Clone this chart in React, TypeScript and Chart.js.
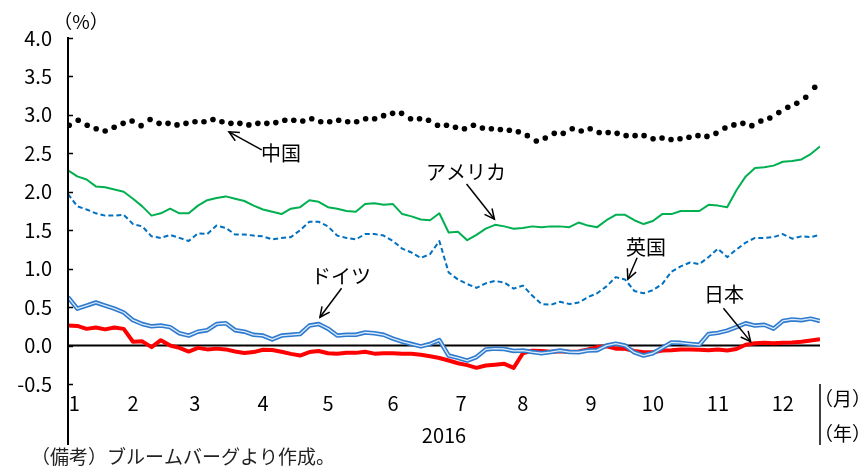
import React, { useEffect, useRef } from 'react';
import { Chart, registerables } from 'chart.js';

Chart.register(...registerables);

// ---- Data (x unit: trading-day index of 2016, 0 .. 243) ----
const MONTH_LABELS = ['1', '2', '3', '4', '5', '6', '7', '8', '9', '10', '11', '12'];
const MONTH_POS = [2, 21, 41, 63, 84, 105, 127, 147, 169, 189, 210, 231];
const X_MAX = 243;
const LINE_STEP = 3; // line series are sampled every 3 trading days
const CHINA_FIRST = 0.4;
const CHINA_LAST = 241.3;

const Y_TICKS = [-0.5, 0, 0.5, 1.0, 1.5, 2.0, 2.5, 3.0, 3.5, 4.0];

const CHINA = [
  2.865, 2.93, 2.865, 2.82, 2.79, 2.84, 2.89, 2.92, 2.86, 2.94, 2.89, 2.89, 2.87, 2.89,
  2.91, 2.91, 2.94, 2.91, 2.89, 2.89, 2.87, 2.89, 2.89, 2.9, 2.93, 2.93, 2.92, 2.95,
  2.91, 2.91, 2.93, 2.91, 2.91, 2.95, 2.95, 2.99, 3.02, 3.02, 2.95, 2.95, 2.93, 2.865,
  2.865, 2.84, 2.82, 2.865, 2.83, 2.82, 2.81, 2.8, 2.78, 2.73, 2.66, 2.7, 2.76,
  2.76, 2.82, 2.79, 2.82, 2.77, 2.77, 2.76, 2.73, 2.73, 2.73, 2.69, 2.7, 2.68, 2.69,
  2.71, 2.73, 2.72, 2.76, 2.83, 2.87, 2.89, 2.86, 2.92, 2.96, 3.03, 3.1, 3.15, 3.23, 3.36,
];

const USA = [
  2.28, 2.2, 2.16, 2.07, 2.06, 2.03, 2.0, 1.91, 1.81, 1.69,
  1.72, 1.78, 1.72, 1.72, 1.82, 1.89, 1.92, 1.94, 1.91, 1.88,
  1.82, 1.77, 1.74, 1.71, 1.78, 1.8, 1.89, 1.87, 1.8, 1.78,
  1.75, 1.74, 1.84, 1.85, 1.83, 1.84, 1.71, 1.68, 1.64, 1.63,
  1.72, 1.47, 1.48, 1.37, 1.44, 1.52, 1.57, 1.55, 1.52, 1.53,
  1.55, 1.54, 1.55, 1.55, 1.54, 1.6, 1.56, 1.54, 1.63, 1.7,
  1.7, 1.63, 1.58, 1.62, 1.71, 1.71, 1.75, 1.75, 1.75, 1.83,
  1.82, 1.8, 2.02, 2.2, 2.31, 2.32, 2.34, 2.39, 2.4, 2.42,
  2.49, 2.59,
];

const UK = [
  1.97, 1.81, 1.77, 1.72, 1.69, 1.69, 1.7, 1.58, 1.55, 1.42,
  1.4, 1.44, 1.4, 1.36, 1.46, 1.45, 1.56, 1.53, 1.445, 1.445,
  1.43, 1.42, 1.38, 1.4, 1.41, 1.5, 1.61, 1.61, 1.55, 1.43,
  1.4, 1.38, 1.45, 1.45, 1.43, 1.36, 1.26, 1.21, 1.14, 1.19,
  1.36, 0.95, 0.86, 0.8, 0.75, 0.81, 0.84, 0.82, 0.74, 0.78,
  0.65, 0.54, 0.53, 0.57, 0.54, 0.56, 0.63, 0.68, 0.77, 0.89,
  0.86, 0.71, 0.68, 0.72, 0.8, 0.96, 1.03, 1.08, 1.06, 1.15,
  1.26, 1.15, 1.25, 1.34, 1.4, 1.4, 1.41, 1.45, 1.39, 1.42,
  1.41, 1.44,
];

const GERMANY = [
  0.63, 0.48, 0.52, 0.56, 0.52, 0.48, 0.43, 0.33, 0.28, 0.25,
  0.26, 0.24, 0.16, 0.13, 0.18, 0.2, 0.28, 0.29, 0.2, 0.18,
  0.14, 0.13, 0.08, 0.13, 0.14, 0.15, 0.26, 0.28, 0.22, 0.13,
  0.14, 0.14, 0.17, 0.16, 0.14, 0.09, 0.05, 0.02, -0.01, 0.02,
  0.07, -0.13, -0.16, -0.195, -0.15, -0.05, -0.04, -0.045, -0.07, -0.065,
  -0.085, -0.1, -0.085, -0.065, -0.085, -0.087, -0.065, -0.06, 0.0, 0.025,
  0.0, -0.09, -0.13, -0.1, -0.03, 0.04, 0.035, 0.022, 0.01, 0.15,
  0.165, 0.195, 0.24, 0.29, 0.26, 0.27, 0.22, 0.32, 0.34, 0.33,
  0.35, 0.32,
];

const JAPAN = [
  0.26, 0.255, 0.217, 0.235, 0.21, 0.235, 0.217, 0.05, 0.055, -0.02,
  0.07, 0.0, -0.03, -0.078, -0.03, -0.05, -0.04, -0.05, -0.078, -0.098,
  -0.085, -0.055, -0.058, -0.08, -0.108, -0.13, -0.085, -0.07, -0.1, -0.108,
  -0.095, -0.095, -0.08, -0.105, -0.1, -0.1, -0.105, -0.108, -0.12, -0.14,
  -0.162, -0.195, -0.23, -0.255, -0.29, -0.26, -0.25, -0.238, -0.29, -0.1,
  -0.066, -0.072, -0.08, -0.074, -0.08, -0.076, -0.05, -0.02, -0.01, -0.04,
  -0.043, -0.07, -0.087, -0.087, -0.065, -0.06, -0.05, -0.05, -0.056, -0.06,
  -0.05, -0.065, -0.045, 0.01, 0.03, 0.036, 0.03, 0.036, 0.04, 0.05,
  0.067, 0.082,
];

// Series labels with arrows (data coordinates)
const ANNOTATIONS = [
  { text: '中国', tx: 68.8, ty: 2.505, from: [62.6, 2.544], to: [52.0, 2.78] },
  { text: 'アメリカ', tx: 128.6, ty: 2.258, from: [128.8, 2.1], to: [137.8, 1.643] },
  { text: '英国', tx: 186.8, ty: 1.282, from: [183.9, 1.143], to: [180.9, 0.862] },
  { text: 'ドイツ', tx: 88.2, ty: 0.905, from: [88.4, 0.745], to: [81.4, 0.368] },
  { text: '日本', tx: 212.0, ty: 0.671, from: [211.8, 0.485], to: [220.6, 0.051] },
];

const UNIT_Y = '（%）';
const UNIT_MONTH = '（月）';
const UNIT_YEAR = '（年）';
const YEAR_LABEL = '2016';
const NOTE = '（備考）ブルームバーグより作成。';

const AXIS_FONT = '"Liberation Sans Narrow", "Noto Sans CJK JP", sans-serif';
const JP_FONT = '"Noto Sans CJK JP", sans-serif';

const toLine = (arr: number[]) => arr.map((v, i) => ({ x: i * LINE_STEP, y: v }));
const toChina = (arr: number[]) =>
  arr.map((v, i) => ({ x: CHINA_FIRST + (i * (CHINA_LAST - CHINA_FIRST)) / (arr.length - 1), y: v }));

const decorPlugin = {
  id: 'decor',
  beforeDatasetsDraw(chart: any) {
    const { ctx, chartArea, scales } = chart;
    const y0 = scales.y.getPixelForValue(0);
    ctx.save();
    ctx.strokeStyle = '#000';
    ctx.lineWidth = 2;
    ctx.beginPath();
    ctx.moveTo(chartArea.left, y0);
    ctx.lineTo(chartArea.right, y0);
    ctx.stroke();
    ctx.restore();
  },
  afterDraw(chart: any) {
    const { ctx, chartArea, scales } = chart;
    const xs = scales.x;
    const ys = scales.y;
    const bottomExt = chart.height - 21;
    ctx.save();
    // y axis line (extends below the plot)
    ctx.strokeStyle = '#000';
    ctx.lineWidth = 2;
    ctx.beginPath();
    ctx.moveTo(chartArea.left, chartArea.top - 1);
    ctx.lineTo(chartArea.left, bottomExt);
    ctx.stroke();
    // separator at right
    ctx.lineWidth = 1.5;
    ctx.beginPath();
    ctx.moveTo(chartArea.right, chartArea.bottom);
    ctx.lineTo(chartArea.right, bottomExt);
    ctx.stroke();
    // inner tick marks
    ctx.lineWidth = 1.5;
    Y_TICKS.forEach((v) => {
      const py = Math.round(ys.getPixelForValue(v)) + 0.5;
      ctx.beginPath();
      ctx.moveTo(chartArea.left, py);
      ctx.lineTo(chartArea.left + 5, py);
      ctx.stroke();
    });

    // texts
    ctx.fillStyle = '#000';
    ctx.textBaseline = 'middle';
    ctx.font = `19px ${JP_FONT}`;
    ctx.textAlign = 'center';
    ctx.fillText(UNIT_Y, chartArea.left + 13, chartArea.top - 16);
    ctx.textAlign = 'left';
    ctx.fillText(UNIT_MONTH, chartArea.right - 6, chartArea.bottom + 15);
    ctx.fillText(UNIT_YEAR, chartArea.right - 6, chartArea.bottom + 50);
    ctx.font = `20px ${AXIS_FONT}`;
    ctx.textAlign = 'center';
    ctx.fillText(YEAR_LABEL, 444, chartArea.bottom + 51);
    ctx.font = `19px ${JP_FONT}`;
    ctx.textAlign = 'left';
    ctx.fillStyle = '#222';
    ctx.fillText(NOTE, 31, chart.height - 9);

    // annotations
    ctx.fillStyle = '#000';
    ctx.strokeStyle = '#000';
    ctx.lineWidth = 1.5;
    ctx.font = `20px ${JP_FONT}`;
    ctx.textAlign = 'center';
    ANNOTATIONS.forEach((a) => {
      ctx.fillText(a.text, xs.getPixelForValue(a.tx), ys.getPixelForValue(a.ty));
      const x1 = xs.getPixelForValue(a.from[0]);
      const y1 = ys.getPixelForValue(a.from[1]);
      const x2 = xs.getPixelForValue(a.to[0]);
      const y2 = ys.getPixelForValue(a.to[1]);
      ctx.beginPath();
      ctx.moveTo(x1, y1);
      ctx.lineTo(x2, y2);
      ctx.stroke();
      const ang = Math.atan2(y2 - y1, x2 - x1);
      const hl = 11;
      const spread = 0.45;
      ctx.beginPath();
      ctx.moveTo(x2 - hl * Math.cos(ang - spread), y2 - hl * Math.sin(ang - spread));
      ctx.lineTo(x2, y2);
      ctx.lineTo(x2 - hl * Math.cos(ang + spread), y2 - hl * Math.sin(ang + spread));
      ctx.stroke();
    });
    ctx.restore();
  },
};

export default function App() {
  const ref = useRef<HTMLCanvasElement>(null);
  useEffect(() => {
    if (!ref.current) return;
    const lineBase = { pointRadius: 0, tension: 0, fill: false, borderJoinStyle: 'round' as const };
    const chart = new Chart(ref.current, {
      type: 'line',
      data: {
        datasets: [
          { ...lineBase, label: 'ドイツ', data: toLine(GERMANY), borderColor: '#DCEBF8', borderWidth: 1.3, order: 0 },
          { ...lineBase, label: 'ドイツ', data: toLine(GERMANY), borderColor: '#2E7BCF', borderWidth: 4.5, order: 1 },
          { ...lineBase, label: '日本', data: toLine(JAPAN), borderColor: '#FF0000', borderWidth: 4, order: 2 },
          { ...lineBase, label: '英国', data: toLine(UK), borderColor: '#0070C0', borderWidth: 2, borderDash: [5, 3], order: 3 },
          { ...lineBase, label: 'アメリカ', data: toLine(USA), borderColor: '#00B050', borderWidth: 2, order: 4 },
          {
            label: '中国',
            data: toChina(CHINA),
            showLine: false,
            pointRadius: 2.8,
            pointBackgroundColor: '#000',
            pointBorderWidth: 0,
            borderColor: '#000',
            order: 5,
          },
        ],
      },
      options: {
        responsive: false,
        animation: false,
        events: [],
        layout: { padding: { left: 0, right: 43, top: 38, bottom: 0 } },
        plugins: { legend: { display: false }, tooltip: { enabled: false } },
        scales: {
          x: {
            type: 'linear',
            min: 0,
            max: X_MAX,
            afterFit: (s: any) => {
              s.height = 82;
            },
            afterBuildTicks: (s: any) => {
              s.ticks = MONTH_POS.map((v) => ({ value: v }));
            },
            grid: { display: false, drawTicks: false },
            border: { display: false },
            ticks: {
              autoSkip: false,
              maxRotation: 0,
              padding: 7,
              color: '#000',
              font: { family: AXIS_FONT, size: 20 },
              callback: (_v: any, i: number) => MONTH_LABELS[i],
            },
          },
          y: {
            type: 'linear',
            min: -0.5,
            max: 4.0,
            afterFit: (s: any) => {
              s.width = 68;
            },
            afterBuildTicks: (s: any) => {
              s.ticks = Y_TICKS.map((v) => ({ value: v }));
            },
            grid: { display: false, drawTicks: false },
            border: { display: false },
            ticks: {
              padding: 16,
              color: '#000',
              font: { family: AXIS_FONT, size: 20 },
              callback: (v: any) => Number(v).toFixed(1),
            },
          },
        },
      },
      plugins: [decorPlugin],
    } as any);
    return () => chart.destroy();
  }, []);
  return (
    <div style={{ position: 'fixed', left: 0, top: 0, width: 863, height: 466, background: '#fff' }}>
      <canvas ref={ref} width={863} height={466} style={{ display: 'block' }} />
    </div>
  );
}
